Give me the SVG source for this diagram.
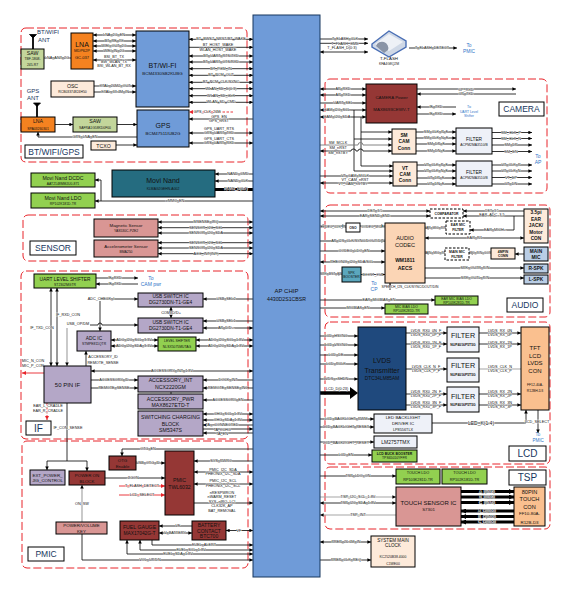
<svg xmlns="http://www.w3.org/2000/svg" width="571" height="590" viewBox="0 0 571 590">
<style>
text{font-family:"Liberation Sans",Arial,sans-serif;text-anchor:middle;dominant-baseline:central;fill:#111}
.l{font-size:3.8px;paint-order:stroke;stroke:#fff;stroke-width:.6px}
.t{font-size:7px}.m{font-size:6px}.u{font-size:5.2px}.s{font-size:4.4px}.x{font-size:3.4px}
.h{font-size:10px;fill:#17375e}
.b{font-size:6.5px;fill:#2f75c8}.bs{font-size:4px;fill:#2f75c8}
rect{stroke:#000;stroke-width:1}
.lab{fill:#fff}.gr{fill:#92d050}.pu{fill:#b4a7c7}.br{fill:#953735}.sa{fill:#d99694}.cr{fill:#fdeada}.pa{fill:#eef1f8}.or{fill:#f58220}.ol{fill:#c3d69b}.oa{fill:#fac08f}.cb{fill:#fbd5b5}.lb{fill:#b9cde5}
.d{fill:#fff;stroke-dasharray:2.5 1.5}
.red{fill:none;stroke:#e8242a;stroke-width:1;stroke-dasharray:8 3}
path{fill:none;stroke:#000;stroke-width:.8}
.e{marker-end:url(#a)}.w{marker-start:url(#a);marker-end:url(#a)}
.g{stroke:#a6a6a6;stroke-width:1.2}
.k{stroke-width:3}
.tk{marker-end:url(#t)}
.r{stroke:#e8242a;stroke-width:.9;marker-end:url(#r)}
.dr{stroke-dasharray:2.5 1.5}
</style>
<defs>
<marker id="a" viewBox="0 0 4 4" refX="4" refY="2" markerWidth="3.6" markerHeight="3.6" markerUnits="userSpaceOnUse" orient="auto-start-reverse"><path d="M0 0L4 2L0 4z" style="fill:#000;stroke:none"/></marker>
<marker id="t" viewBox="0 0 4 4" refX="4" refY="2" markerWidth="5" markerHeight="5" markerUnits="userSpaceOnUse" orient="auto"><path d="M0 0L4 2L0 4z" style="fill:#000;stroke:none"/></marker>
<marker id="r" viewBox="0 0 4 4" refX="4" refY="2" markerWidth="4" markerHeight="4" markerUnits="userSpaceOnUse" orient="auto"><path d="M0 0L4 2L0 4z" style="fill:#e8242a;stroke:none"/></marker>
</defs>
<g id="regions">
<rect class="red" x="21" y="28" width="226" height="134" rx="5"/>
<rect class="red" x="23" y="215" width="225" height="46" rx="5"/>
<rect class="red" x="21" y="271" width="227" height="168" rx="5"/>
<rect class="red" x="22" y="441" width="226" height="127" rx="5"/>
<rect class="red" x="325" y="79" width="222" height="114" rx="5"/>
<rect class="red" x="325" y="205" width="225" height="112" rx="5"/>
<rect class="red" x="325" y="322" width="225" height="142" rx="5"/>
<rect class="red" x="325" y="467" width="225" height="62" rx="5"/>
</g>
<g id="connectors">
<path class="w" d="M93 35H136"/><text class="l" x="114" y="35">LNA_2G_EN</text>
<path class="w" d="M93 41H136"/><text class="l" x="114" y="40.500">BT_RF_TX</text>
<path class="w" d="M93 46H136"/><text class="l" x="114" y="45.500">WIFI_OUT_2G</text>
<path class="w" d="M93 51H136"/><text class="l" x="114" y="50.500">WIFI_IN_2G</text>
<path class="w" d="M93 60H136"/><text class="l" x="114" y="57">BSI_BT_TX</text><text class="l" x="114" y="61.500">BW_WLAN_TX</text><text class="l" x="114" y="66">BSI_WLAN_BT_RX</text>
<path d="M44 58H71"/><text class="l" x="57" y="58">LNA_ANT_2G</text>
<path class="e" d="M94 86H136"/><text class="l" x="115" y="86">XTAL_26M2_OUT</text>
<path class="e" d="M94 92H136"/><text class="l" x="115" y="92">XTAL_37.4M_IN</text>
<path class="w" d="M189 39.300H253"/><text class="l" x="221" y="39.300">BT_BWST_NRST/BT_WAKE</text>
<path class="e" d="M189 47.300H253"/><text class="l" x="218" y="45">BT_HOST_WAKE</text><text class="l" x="218" y="50">WLAN_HOST_WAKE</text>
<path class="w" d="M189 56H253"/><text class="l" x="221" y="56">BT_UART_RTS/TXD</text>
<path class="w" d="M189 62H253"/><text class="l" x="221" y="62">BT_UART_CTS/RXD</text>
<path class="w" d="M189 68.700H253"/><text class="l" x="221" y="68.700">BT_PCM_IN</text>
<path class="w" d="M189 75.300H253"/><text class="l" x="221" y="75.300">BT_PCM_OUT</text>
<path class="w" d="M189 82.300H253"/><text class="l" x="221" y="82.300">BT_PCM_CLK/SYNC</text>
<path class="w" d="M189 88.700H253"/><text class="l" x="221" y="88.700">WLAN_SD_D(0:3)</text>
<path class="w" d="M189 95.700H253"/><text class="l" x="221" y="95.700">WLAN_SD_CLK</text>
<path class="w" d="M189 102.300H253"/><text class="l" x="221" y="102.300">WLAN_SD_CMD</text>
<path class="r dr" d="M233 112H189"/><text class="l" x="207" y="112">GPS_CLK_26M</text>
<path class="e" d="M253 119H189"/><text class="l" x="219" y="116.700">GPS_EN</text><text class="l" x="219" y="121">GPS_nRST</text>
<path class="w" d="M189 133H253"/><text class="l" x="219" y="128.700">GPS_UART_RTS</text><text class="l" x="219" y="132.700">GPS_UART_TXD</text>
<path class="w" d="M189 143H253"/><text class="l" x="219" y="139">GPS_UART_CTS</text><text class="l" x="219" y="143.300">GPS_UART_RXD</text>
<path class="e" d="M137 137H38V132"/><text class="l" x="85" y="136.700">GPS_LNA_EN</text>
<path class="e" d="M55 124.500H73"/><path class="e" d="M117 124.500H137"/><path class="e" d="M116 145H137"/>
<path class="e" d="M253 174H215"/><text class="l" x="238" y="174">NAND_CMD</text>
<path class="e" d="M253 181H215"/><text class="l" x="238" y="181">NAND_CLK</text>
<path class="k" d="M253 189.500H215"/><text class="l" x="236" y="188.500">NAND_D(0:7)</text>
<path class="e" d="M253 201H95"/><path class="e" d="M101 201V180H95"/><text class="l" x="175" y="201">eMMC_EN</text>
<path class="w" d="M158 222H253"/><text class="l" x="206" y="222">MSENSE_IRQ</text>
<path class="w" d="M158 227.700H253"/><text class="l" x="206" y="227.700">SENSOR_I2C_SCL</text>
<path class="w" d="M158 233H253"/><text class="l" x="206" y="233">SENSOR_I2C_SDA</text>
<path class="w" d="M158 242.700H253"/><text class="l" x="206" y="242.700">SENSOR_I2C_SCL</text>
<path class="w" d="M158 248H253"/><text class="l" x="206" y="248">SENSOR_I2C_SDA</text>
<path class="w" d="M158 253.700H253"/><text class="l" x="206" y="253.700">ACC_INT(INT)</text>
<path class="e" d="M96 278H138"/><text class="l" x="115" y="278">IF_RXD</text>
<path class="e" d="M138 284H96"/><text class="l" x="115" y="284">IF_TXD</text>
<path class="e" d="M100 299H138"/><text class="l" x="101" y="299">ADC_CHECK_I</text>
<path class="e" d="M253 299H203"/><text class="l" x="226" y="299">USB_SEL2</text>
<path class="e" d="M253 321H203"/><text class="l" x="226" y="321">USB_SEL1</text>
<path class="w" d="M253 328H203"/><text class="l" x="226" y="328">AP_D/D+</text>
<path class="w" d="M171 307V318"/><text class="l" x="171" y="312.500">COM_D/D+</text>
<path class="e" d="M90 325H98a2 2 0 0 1 4 0H138"/><text class="l" x="78" y="323.500">USB_OP/DM</text>
<path class="e" d="M100 301V331"/>
<path class="e g" d="M67 328V366"/>
<path class="w" d="M51 288V366"/><text class="l" x="42" y="327.500">IF_TXD_CON</text>
<path class="w" d="M57 288V366"/><text class="l" x="68" y="314.500">IF_RXD_CON</text>
<path class="w" d="M111 340H158"/><text class="l" x="134" y="340">ADC_I2C_SCL_3.3V</text>
<path class="w" d="M111 346H158"/><text class="l" x="134" y="346">ADC_I2C_SDA_3.3V</text>
<path class="w" d="M196 340H253"/><text class="l" x="226" y="340">ADC_I2C_SCL_1.8V</text>
<path class="w" d="M196 346H253"/><text class="l" x="226" y="346">ADC_I2C_SDA_1.8V</text>
<path class="e" d="M86 366V351"/><text class="l" x="103" y="356.500">ACCESSORY_ID</text><text class="l" x="103" y="362.500">REMOTE_SENSE</text>
<path class="r" d="M44 373H22"/><text class="l" x="33" y="361.300">MIC_N_CON</text><text class="l" x="33" y="366">MIC_P_CON</text>
<path class="w" d="M91 371H253"/><text class="l" x="172" y="370.500">ACCESSORY_INT_1.8V</text>
<path class="e" d="M91 380H138"/><text class="l" x="114" y="380">ACCESSORY_ID</text>
<path class="e" d="M91 388H138"/><text class="l" x="114" y="388">REMOTE_SENSE</text>
<path class="e" d="M253 380H203"/><text class="l" x="228" y="380">DOCK_INT</text>
<path class="e" d="M253 388H203"/><text class="l" x="228" y="388">REMOTE_SENSE_INC</text>
<path d="M171 392V394"/>
<path class="e" d="M253 400H203"/><text class="l" x="228" y="400">ACCESSORY_EN</text>
<path class="w" d="M253 414H203"/><text class="l" x="228" y="414">CHG_SCL_1.8V</text>
<path class="w" d="M253 420H203"/><text class="l" x="228" y="420">CHG_SDA_1.8V</text>
<path class="e" d="M253 425H203"/><text class="l" x="222" y="425">TA_nCONNECTED</text>
<path class="e" d="M203 429H253"/><text class="l" x="222" y="429.500">TA_nCHG</text>
<path class="e" d="M253 433H203"/><text class="l" x="222" y="433.500">TA_EN</text>
<path class="r dr" d="M47 403V420"/><text class="l" x="48" y="406">EAR_L_CRADLE</text><text class="l" x="48" y="410.500">EAR_R_CRADLE</text>
<path d="M67 403V461"/><text class="l" x="68" y="427.500">IF_CON_SENSE</text>
<path class="e" d="M67 461H47V470"/><path class="e" d="M67 461H87V471"/>
<path class="e" d="M253 449H122V456"/><text class="l" x="148" y="449">OTG_EN</text>
<path class="e" d="M136 463H165"/><text class="l" x="148" y="463">USB_OTG_ID</text>
<path class="e" d="M253 461H194"/><text class="l" x="221" y="461">SYS_PWRC</text>
<path class="w" d="M194 472H253"/><text class="l" x="223" y="469.500">PMIC_I2C_SDA</text><text class="l" x="223" y="474">PHEONIX_I2C_SDA</text>
<path class="w" d="M194 484H253"/><text class="l" x="223" y="481">PMIC_I2C_SCL</text><text class="l" x="223" y="485.700">PHEONIX_I2C_SCL</text>
<path d="M194 503H253" class="e"/><text class="l" x="222" y="493.300">nRESPWRON</text><text class="l" x="222" y="497.300">nWARM_RESET</text><text class="l" x="222" y="502.300">SYS_nIRQ_LCI</text><text class="l" x="222" y="506.300">CLK32K_AP</text><text class="l" x="222" y="511.300">BAT_REMOVAL</text>
<path class="e" d="M105 478H165"/><text class="l" x="133" y="478">JIGON</text>
<path class="r" d="M119 486H165"/><text class="l" x="142" y="486">T_FLASH_DETECT</text>
<path class="r" d="M119 495H165"/><text class="l" x="142" y="495">LCD_SELECT</text>
<path class="e g" d="M82 522V485"/><text class="l" x="82" y="503.500">ON_SW</text>
<path class="e" d="M82 534V560H253"/><text class="l" x="150" y="559.500">VOL_UP/DN</text>
<path class="e" d="M192 526H159"/><text class="l" x="178" y="526">VF</text>
<path class="w" d="M159 533H192"/><text class="l" x="175" y="532.700">V_BATTERY</text>
<path class="w" d="M226 530.500H253"/><text class="l" x="239" y="530.500">VF</text>
<path class="e" d="M152 540V545H253"/><text class="l" x="204" y="545">FUEL_ALERT</text>
<path class="w" d="M140 540V550H253"/><text class="l" x="191" y="549.700">FUEL_SCL_1.8V</text>
<path class="w" d="M127 540V554H253"/><text class="l" x="178" y="554">FUEL_SDA_1.8V</text>
<path class="e" d="M320 39H368"/><text class="l" x="345" y="39">T_FLASH_CLK</text>
<path class="e" d="M320 43.300H368"/><text class="l" x="345" y="43.500">T_FLASH_CMD</text>
<path class="w" d="M320 52H368"/><text class="l" x="342" y="47.500">T_FLASH_D(0:3)</text>
<path class="e" d="M409 48H457"/><text class="l" x="432" y="48">T_FLASH_DETECT</text>
<path class="w" d="M320 89H366"/><text class="l" x="343" y="89">AP_RXD</text>
<path class="w" d="M320 95H366"/><text class="l" x="343" y="95">AP_TXD</text>
<path class="e" d="M320 103H366"/><text class="l" x="343" y="103">UART_SEL</text>
<path class="w" d="M320 110H366"/><text class="l" x="337" y="110">CAM_I2C_SCL</text>
<path class="w" d="M320 117H366"/><text class="l" x="337" y="117">CAM_I2C_SDA</text>
<path class="e" d="M417 89H516"/><text class="l" x="466" y="89.500">CP_RXD</text>
<path class="e" d="M516 94H417"/><text class="l" x="466" y="94">CP_TXD</text>
<path class="e" d="M456 107H417"/><text class="l" x="436" y="107">IF_TXD</text>
<path class="e" d="M417 114H456"/><text class="l" x="436" y="114">IF_RXD</text>
<path class="e" d="M354 110V171H393"/><path class="e" d="M354 139H392"/>
<path class="e" d="M361 117V166H393"/><path class="e" d="M361 132H392"/>
<path class="e" d="M320 145H358a2 2 0 0 1 5 0H392" style="stroke:#777;stroke-width:.9"/><text class="l" x="338" y="142.500">SM_MCLK</text><text class="l" x="338" y="147.500">SM_nRST</text>
<path class="w" d="M320 151H351a2.500 2 0 0 1 5 0h2a2.500 2 0 0 1 5 0H392"/><text class="l" x="338" y="152.500">SM_nSTBY</text>
<path class="e" d="M320 176H393"/><text class="l" x="355" y="176">VT_CAM_MCLK</text><text class="l" x="355" y="179.500">VT_CAM_nRST</text>
<path class="w" d="M320 183H393"/><text class="l" x="353" y="183.500">VT_CAM_nSTBY</text>
<path class="e" d="M416 132H456"/><text class="l" x="436" y="132">SM_CLK_P_F</text>
<path class="e" d="M416 138H456"/><text class="l" x="436" y="138">SM_CLK_N_F</text>
<path class="e" d="M416 144H456"/><text class="l" x="436" y="144">SM_DP_F</text>
<path class="e" d="M416 151H456"/><text class="l" x="436" y="151">SM_DN_F</text>
<path class="e" d="M417 165H456"/><text class="l" x="436" y="165">VT_CLK_P_F</text>
<path class="e" d="M417 171H456"/><text class="l" x="436" y="171">VT_CLK_N_F</text>
<path class="e" d="M417 178H456"/><text class="l" x="436" y="178">VT_DP_F</text>
<path class="e" d="M417 184H456"/><text class="l" x="436" y="184">VT_DN_F</text>
<path class="e" d="M492 132.500H532"/><text class="l" x="511" y="132.500">SM_CLK_P</text>
<path class="e" d="M492 138.500H532"/><text class="l" x="511" y="138.500">SM_CLK_N</text>
<path class="e" d="M492 145H532"/><text class="l" x="511" y="145">SM_DP</text>
<path class="e" d="M492 151.500H532"/><text class="l" x="511" y="151.500">SM_DN</text>
<path class="e" d="M492 165H532"/><text class="l" x="511" y="165">VT_CLK_P</text>
<path class="e" d="M492 171H532"/><text class="l" x="511" y="171">VT_CLK_N</text>
<path class="e" d="M492 177.500H532"/><text class="l" x="511" y="177.500">VT_DP</text>
<path class="e" d="M492 184H532"/><text class="l" x="511" y="184">VT_DN</text>
<path class="w" d="M320 211H430"/><text class="l" x="375" y="211">DET_3.5</text>
<path class="w" d="M320 216H430"/><text class="l" x="375" y="215.700">EAR_SEND_END</text>
<path class="e" d="M524 211H463"/><text class="l x" x="492" y="210.500">DET_3.5</text>
<path class="e" d="M524 216H463"/><text class="l" x="492" y="214.700">EAR_ADC_3.5</text>
<path class="e" d="M514 216V230H470"/><text class="l" x="495" y="230">EAR_MICH+</text>
<path class="w" d="M320 226H346"/><text class="l x" x="333" y="226.500">CODEC_CLK_IN</text>
<path class="e" d="M360 226H385"/><text class="l x" x="373" y="226.500">CODEC_MCLK</text>
<path class="e" d="M320 241H385"/><text class="l" x="358" y="241.300">AP_I2S_CLK/SYNC/DOUT/DIN</text>
<path class="e" d="M320 251H385"/><text class="l" x="354" y="251">CODEC_LDO_EN</text>
<path class="w" d="M320 262H385"/><text class="l" x="352" y="262">PHEONIX_I2C_SDA/SCL</text>
<path class="e" d="M320 274H342"/><text class="l x" x="331" y="274">SPK_BST_EN</text>
<path class="e" d="M361 274.500H385"/><text class="l x" x="373" y="274.500">BOOST_OUT</text>
<path class="e" d="M446 228H425"/><text class="l x" x="435" y="228">EAR_MIC_P/N</text>
<path class="w" d="M425 238H524"/><text class="l" x="475" y="238">EAR_R/L</text>
<path class="e" d="M445 253H425"/><text class="l x" x="435" y="253">MAIN_MIC_P/N</text>
<path class="e" d="M491 253H469"/><text class="l x" x="480" y="253">MIC_P/N_CON</text>
<path class="e" d="M524 254H515"/>
<path class="e" d="M425 268H524"/><text class="l" x="475" y="268">SPK_OUTR_P/N</text>
<path class="e" d="M425 278H524"/><text class="l" x="475" y="278">SPK_OUTL_P/N</text>
<path class="e" d="M390 290V283"/><text class="l x" x="410" y="286.500">SPEECH_I2S_CLK/SYNC/DOUT/DIN</text>
<path class="e" d="M320 300H435"/><text class="l" x="379" y="300">EAR_MICBIAS_EN</text>
<path class="e" d="M320 308H385"/><text class="l" x="358" y="308">MICBIAS_EN</text>
<path class="e" d="M320 336H358"/><text class="l" x="336" y="336">LCD_HSYNC</text>
<path class="e" d="M320 345H358"/><text class="l" x="336" y="345">LCD_VSYNC</text>
<path class="e" d="M320 355H358"/><text class="l" x="336" y="355">LCD_DE</text>
<path class="e" d="M320 364H358"/><text class="l" x="336" y="364">LCD_PCLK</text>
<path class="e" d="M320 379H358"/><text class="l" x="336" y="379">LVDS_nSHDN</text>
<path d="M320 393H350" style="stroke-width:3.500"/><path d="M350 387L358 393L350 399z" style="fill:#000;stroke:none"/><text class="l" x="337" y="388.500">LCD_D(0:23)</text>
<path class="e" d="M406 333H447"/><text class="l" x="426" y="331">LVDS_RX0_0N_F</text><text class="l" x="426" y="335">LVDS_RX0_0P_F</text>
<path class="e" d="M406 344H447"/><text class="l" x="426" y="342.500">LVDS_RX0_1N_F</text><text class="l" x="426" y="347">LVDS_RX0_1P_F</text>
<path class="e" d="M406 369H447"/><text class="l" x="426" y="367">LVDS_CLK_N_F</text><text class="l" x="426" y="371">LVDS_CLK_P_F</text>
<path class="e" d="M406 394H447"/><text class="l" x="426" y="391.500">LVDS_RX0_2N_F</text><text class="l" x="426" y="396">LVDS_RX0_2P_F</text>
<path class="e" d="M406 405H447"/><text class="l" x="426" y="403">LVDS_RX0_3N_F</text><text class="l" x="426" y="407">LVDS_RX0_3P_F</text>
<path class="e" d="M479 333H521"/><text class="l" x="500" y="331">LVDS_RX_0N</text><text class="l" x="500" y="335">LVDS_RX_0P</text>
<path class="e" d="M479 344H521"/><text class="l" x="500" y="342.500">LVDS_RX_1N</text><text class="l" x="500" y="347">LVDS_RX_1P</text>
<path class="g" d="M479 369H521"/><text class="l" x="500" y="367">LVDS_CLK_N</text><text class="l" x="500" y="371">LVDS_CLK_P</text>
<path class="e" d="M479 394H521"/><text class="l" x="500" y="391.500">LVDS_RX_2N</text><text class="l" x="500" y="396">LVDS_RX_2P</text>
<path class="e" d="M479 405H521"/><text class="l" x="500" y="403">LVDS_RX_3N</text><text class="l" x="500" y="407">LVDS_RX_3P</text>
<path class="e" d="M320 419H374"/><text class="l" x="346" y="419">LCD_BACKLIGHT_PWM</text>
<path class="e" d="M320 427H374"/><text class="l" x="346" y="427">LCD_BACKLIGHT_RESET</text>
<path class="e" d="M320 442H374"/><text class="l" x="346" y="442.500">LCD_BACKLIGHT_RESET</text>
<path class="e" d="M320 455H372"/><text class="l" x="346" y="455">LCD_EN</text>
<path d="M432 423H526"/><path class="e" d="M526 423V410"/><text x="481" y="423.300" style="font-size:5px;paint-order:stroke;stroke:#fff;stroke-width:1px">LED_K(1:4)</text>
<path class="e" d="M538 410V433"/><text class="l" x="537" y="421.500">LCD_SELECT</text>
<path class="e" d="M320 476H396"/><text class="l" x="358" y="476">TSP_LDO_ON</text>
<path class="e g" d="M320 497H396"/><text class="l" x="358" y="497">TSP_I2C_SCL_1.8V</text>
<path class="w" d="M320 503H396"/><text class="l" x="358" y="503">TSP_I2C_SDA_1.8V</text>
<path class="e g" d="M396 515H320"/><text class="l" x="358" y="515">TSP_INT</text>
<path class="k tk" d="M461 491.500H514"/><text class="l" x="487" y="491.500">A_I(0:15)</text>
<path class="k tk" d="M461 497H514"/><text class="l" x="487" y="497">B_I(0:15)</text>
<path class="k tk" d="M461 502.500H514"/><text class="l" x="487" y="502.500">C_I(0:14)</text>
<path class="k tk" d="M514 511H461"/><text class="l" x="487" y="511">A_O(0:13)</text>
<path class="k tk" d="M514 516.500H461"/><text class="l" x="487" y="516.500">B_O(0:13)</text>
<path class="k tk" d="M514 522H461"/><text class="l" x="487" y="522">C_O(0:13)</text>
<path class="w" d="M320 542H371"/><text class="l" x="346" y="542">PREP_26.6M_IN</text>
<path class="e" d="M320 560H371"/><text class="l" x="346" y="560">PREP_CLK_REQ</text>
</g>
<g id="ap-chip"><rect x="253" y="15" width="67" height="562" style="fill:#6f9bd8;stroke:#17375e"/><text class="m" x="286.500" y="291">AP CHIP</text><text class="s" x="286.500" y="299" style="font-size:5.200px">4430D2S1CBSR</text></g>
<g id="bt-wifi"><rect x="136" y="31" width="53" height="76" style="fill:#6f9bd8"/><text class="t" x="162.500" y="65">BT/WI-FI</text><text class="s" x="162.500" y="73">BCM4330SB2KUBG</text></g>
<g id="gps"><rect x="137" y="110" width="52" height="37" style="fill:#6f9bd8"/><text class="t" x="163" y="125.500">GPS</text><text class="s" x="163" y="133">BCM47511IUB2G</text></g>
<g id="lna1"><rect class="or" x="71" y="33" width="22" height="36"/><text class="t" x="82" y="44">LNA</text><text class="x" x="82" y="50" style="font-size:4px">MDP62P</text><text class="x" x="82" y="57" style="font-size:4px">GC-037</text></g>
<g id="saw1"><rect class="ol" x="21" y="49" width="23" height="20"/><text class="u" x="32.500" y="53">SAW</text><text class="x" x="32.500" y="59">TBF-1808-</text><text class="x" x="32.500" y="65">245-R7</text></g>
<g id="osc"><rect class="cr" x="51" y="81" width="43" height="16"/><text class="u" x="72.500" y="86">OSC</text><text class="x" x="72.500" y="92">RCB03374824H50</text></g>
<g id="lna2"><rect class="or" x="21" y="117" width="34" height="15"/><text class="u" x="38" y="121">LNA</text><text class="x" x="38" y="128.500">SPA03260301</text></g>
<g id="saw2"><rect class="ol" x="73" y="117" width="44" height="15"/><text class="u" x="95" y="120.500">SAW</text><text class="x" x="95" y="128">SAFRA1G58KD0F00</text></g>
<g id="tcxo"><rect class="cr" x="91" y="141" width="25" height="9"/><text class="u" x="103.500" y="145.500">TCXO</text></g>
<g id="label-btwifigps"><rect class="lab" x="25" y="145" width="58" height="13"/><text x="54" y="151.500" style="font-size:8.500px;fill:#17375e">BT/WIFI/GPS</text></g>
<g id="ant-bt"><path d="M33 49V36" style="stroke-width:1.800"/><path d="M29.500 34.500H36.500L33 38z" style="fill:#000"/><text class="m" x="48" y="32" style="fill:#17375e">BT/WIFI</text><text class="m" x="44" y="39.500" style="fill:#17375e">ANT</text></g>
<g id="ant-gps"><path d="M37 117V104" style="stroke-width:1.800"/><path d="M33.500 103H40.500L37 106.500z" style="fill:#000"/><text class="m" x="33" y="91" style="fill:#17375e">GPS</text><text class="m" x="33" y="98" style="fill:#17375e">ANT</text></g>
<g id="movi-dcdc"><rect class="gr" x="31" y="173" width="64" height="14"/><text class="u" x="63" y="177.500">Movi Nand DCDC</text><text class="x" x="63" y="183.500">AAT2148MMJU0-871</text></g>
<g id="movi-ldo"><rect class="gr" x="31" y="193" width="64" height="15"/><text class="u" x="63" y="197.500">Movi Nand LDO</text><text class="x" x="63" y="204">RP102K181D-TR</text></g>
<g id="movi-nand"><rect x="112" y="170" width="103" height="27" style="fill:#256c80"/><text class="t" x="163" y="180.500">Movi Nand</text><text class="x" x="163" y="188.500">KLMAG2GEHN-A002</text></g>
<g id="magnetic"><rect class="sa" x="94" y="219" width="64" height="18"/><text class="s" x="126" y="225">Magnetic Sensor</text><text class="x" x="126" y="231">YAS530C-PZE2</text></g>
<g id="accel"><rect class="sa" x="94" y="240" width="64" height="17"/><text class="s" x="126" y="246">Accelerometer Sensor</text><text class="x" x="126" y="251.500">BMA250</text></g>
<g id="label-sensor"><rect class="lab" x="30" y="241" width="46" height="14"/><text class="h" x="53" y="248" style="font-size:8.500px">SENSOR</text></g>
<g id="uart"><rect class="gr" x="34" y="274" width="62" height="14"/><text class="s" x="65" y="279" style="font-size:4.800px">UART LEVEL SHIFTER</text><text class="x" x="65" y="284.500">ST2302MGTR</text></g>
<g id="to-cam"><text class="b" x="151" y="278" style="font-size:5px">To</text><text class="b" x="151" y="284" style="font-size:5px">CAM pwr</text></g>
<g id="usb1"><rect class="pu" x="138" y="293" width="65" height="14"/><text class="u" x="170.500" y="296.500" style="font-size:4.800px">USB SWITCH IC</text><text class="u" x="170.500" y="302.500" style="font-size:4.800px">DG2730DN-T1-GE4</text></g>
<g id="usb2"><rect class="pu" x="138" y="318" width="65" height="15"/><text class="u" x="170.500" y="322" style="font-size:4.800px">USB SWITCH IC</text><text class="u" x="170.500" y="328.500" style="font-size:4.800px">DG2730DN-T1-GE4</text></g>
<g id="adc"><rect class="pu" x="77" y="331" width="34" height="20"/><text class="s" x="94" y="338" style="font-size:4.800px">ADC IC</text><text class="x" x="94" y="344">STMPE811QTR</text></g>
<g id="level"><rect class="gr" x="158" y="337" width="38" height="14"/><text class="x" x="177" y="341">LEVEL SHIFTER</text><text class="x" x="177" y="346.500">NLSX5075MUTAG</text></g>
<g id="pin50"><rect class="pu" x="44" y="366" width="47" height="37"/><text class="m" x="67.500" y="384.500">50 PIN IF</text></g>
<g id="acc-int"><rect class="pu" x="138" y="376" width="65" height="16"/><text class="u" x="170.500" y="380">ACCESSORY_INT</text><text class="u" x="170.500" y="386.500">NCX2220GM</text></g>
<g id="acc-pwr"><rect class="pu" x="138" y="394" width="65" height="15"/><text class="u" x="170.500" y="398.500">ACCESSORY_PWR</text><text class="u" x="170.500" y="404.500">MAX8627ETD-T</text></g>
<g id="charging"><rect class="pu" x="138" y="411" width="65" height="25"/><text class="u" x="170.500" y="417">SWITCHING CHARGING</text><text class="u" x="170.500" y="423.500">BLOCK</text><text class="u" x="170.500" y="430">SM5347S</text></g>
<g id="label-if"><rect class="lab" x="26" y="421" width="25" height="14"/><text class="h" x="38.500" y="428">IF</text></g>
<g id="otg"><rect class="br" x="109" y="456" width="27" height="14"/><text class="s" x="122.500" y="460">OTG</text><text class="s" x="122.500" y="466">Enable</text></g>
<g id="pmic"><rect class="br" x="165" y="451" width="29" height="64"/><text class="u" x="179.500" y="480">PMIC</text><text class="u" x="179.500" y="486.500">TWL6032</text></g>
<g id="ext-power"><rect class="pu" x="30" y="470" width="35" height="15"/><text class="s" x="47.500" y="475">EXT_POWER_</text><text class="s" x="47.500" y="480.500">JIG_CONTROL</text></g>
<g id="power-on"><rect class="br" x="69" y="471" width="36" height="14"/><text class="s" x="87" y="475">POWER ON</text><text class="s" x="87" y="481">BLOCK</text></g>
<g id="key"><rect class="sa" x="56" y="522" width="51" height="12"/><text class="s" x="81.500" y="525.500">POWER/VOLUME</text><text class="s" x="81.500" y="531">KEY</text></g>
<g id="fuel"><rect class="br" x="120" y="521" width="39" height="19"/><text class="u" x="139.500" y="527">FUEL GAUGE</text><text class="u" x="139.500" y="533.500" style="font-size:4.800px">MAX17042G-T</text></g>
<g id="battery"><rect class="br" x="192" y="521" width="34" height="19"/><text class="s" x="209" y="524.800" style="font-size:5px">BATTERY</text><text class="s" x="209" y="530.500" style="font-size:5px">CONTACT</text><text class="s" x="209" y="536" style="font-size:5px">BTC700</text></g>
<g id="label-pmic"><rect class="lab" x="28" y="547" width="36" height="14"/><text class="h" x="46" y="554" style="font-size:8.500px">PMIC</text></g>
<g id="t-flash"><path d="M372 44L389 31L406 41V47L389 57L372 47z" style="fill:#cfd8e6;stroke:#4a6fb5;stroke-width:1.400"/><path d="M375 44L389 34L403 42L389 51z" style="fill:#eef1f6;stroke:none"/><path d="M376 46a6 6 0 0 1 12 4L384 53z" style="fill:#8a94a6;stroke:none"/><text class="s" x="389" y="58">T-FLASH</text><text class="x" x="389" y="63.500">KFA4G8Q2M</text></g>
<g id="to-pmic-1"><text class="bs" x="469" y="45" style="font-size:4.800px">To</text><text class="bs" x="469" y="51" style="font-size:4.800px">PMIC</text></g>
<g id="camera-power"><rect class="br" x="366" y="84" width="51" height="39"/><text class="s" x="391.500" y="97">CAMERA Power</text><text class="s" x="391.500" y="109">MAX8693CEWV-T</text></g>
<g id="to-uart"><text class="bs" x="469" y="106.500" style="font-size:3.600px">To</text><text class="x" x="469" y="112" style="fill:#2f75c8">UART Level</text><text class="x" x="469" y="116" style="fill:#2f75c8">Shifter</text></g>
<g id="label-camera"><rect class="lab" x="499" y="102" width="45" height="14"/><text class="h" x="521.500" y="109" style="font-size:8.500px">CAMERA</text></g>
<g id="sm-cam"><rect class="cr" x="392" y="129" width="24" height="25"/><text class="s" x="404" y="135" style="font-size:4.800px;font-weight:bold">SM</text><text class="s" x="404" y="141.500" style="font-size:4.800px;font-weight:bold">CAM</text><text class="s" x="404" y="148" style="font-size:4.800px;font-weight:bold">Conn</text></g>
<g id="vt-cam"><rect class="cr" x="393" y="162" width="24" height="24"/><text class="s" x="405" y="168" style="font-size:4.800px;font-weight:bold">VT</text><text class="s" x="405" y="174" style="font-size:4.800px;font-weight:bold">CAM</text><text class="s" x="405" y="180.500" style="font-size:4.800px;font-weight:bold">Conn</text></g>
<g id="filter-sm"><rect class="pa" x="456" y="128" width="36" height="26"/><text class="s" x="474" y="139" style="font-size:4.800px">FILTER</text><text class="x" x="474" y="144.500">ACPM2MA3510/B</text></g>
<g id="filter-vt"><rect class="pa" x="456" y="161" width="36" height="25"/><text class="s" x="474" y="172" style="font-size:4.800px">FILTER</text><text class="x" x="474" y="177.500">ACPM2MA3510/B</text></g>
<g id="to-ap"><text class="b" x="538" y="156" style="font-size:5px">To</text><text class="b" x="538" y="162" style="font-size:5px">AP</text></g>
<g id="comparator"><rect class="d" x="430" y="209" width="33" height="9"/><text class="x" x="446.500" y="213.500" style="font-weight:bold">COMPARATOR</text></g>
<g id="ear-jack"><rect class="cr" x="524" y="209" width="24" height="34"/><text class="s" x="536" y="212.500" style="font-size:4.800px;font-weight:bold">3.5pi</text><text class="s" x="536" y="219" style="font-size:4.800px;font-weight:bold">EAR</text><text class="s" x="536" y="225.500" style="font-size:4.800px;font-weight:bold">JACK/</text><text class="s" x="536" y="232" style="font-size:4.800px;font-weight:bold">Motor</text><text class="s" x="536" y="238.500" style="font-size:4.800px;font-weight:bold">CON</text></g>
<g id="oso"><rect class="lab" x="346" y="223" width="14" height="9"/><text class="x" x="353" y="227.500" style="font-weight:bold">OSO</text></g>
<g id="codec"><rect class="cb" x="385" y="223" width="40" height="60"/><text class="u" x="405" y="238" style="font-size:5.600px">AUDIO</text><text class="u" x="405" y="245" style="font-size:5.600px">CODEC</text><text class="s" x="405" y="260" style="font-size:5px;font-weight:bold">WM1811</text><text class="u" x="405" y="267.500" style="font-weight:bold">AECS</text></g>
<g id="ear-filter"><rect class="d" x="446" y="221" width="24" height="13"/><text class="x" x="458" y="225" style="font-weight:bold">EAR MIC</text><text class="x" x="458" y="229.800" style="font-weight:bold">FILTER</text></g>
<g id="main-filter"><rect class="d" x="445" y="248" width="24" height="12"/><text class="x" x="457" y="252" style="font-weight:bold">MAIN MIC</text><text class="x" x="457" y="256.500" style="font-weight:bold">FILTER</text></g>
<g id="mic-conn"><rect class="cr" x="491" y="248" width="24" height="11"/><text class="x" x="503" y="251.500" style="font-weight:bold">4MPIN</text><text class="x" x="503" y="256" style="font-weight:bold">CONN</text></g>
<g id="main-mic"><rect class="lb" x="524" y="247" width="24" height="14"/><text class="s" x="536" y="251" style="font-size:4.800px;font-weight:bold">MAIN</text><text class="s" x="536" y="257" style="font-size:4.800px;font-weight:bold">MIC</text></g>
<g id="r-spk"><rect class="lb" x="524" y="264" width="24" height="9"/><text class="s" x="536" y="268.500" style="font-size:4.800px;font-weight:bold">R-SPK</text></g>
<g id="l-spk"><rect class="lb" x="524" y="275" width="24" height="9"/><text class="s" x="536" y="279.500" style="font-size:4.800px;font-weight:bold">L-SPK</text></g>
<g id="spk-boost"><rect x="342" y="267" width="19" height="15" style="fill:#5ba7bd"/><text class="x" x="351.500" y="272.500">SPK</text><text class="x" x="351.500" y="276.500">BOOSTER</text></g>
<g id="to-cp"><text class="b" x="374" y="283" style="font-size:5px">To</text><text class="b" x="374" y="289" style="font-size:5px">CP</text></g>
<g id="ear-ldo"><rect class="gr" x="435" y="296" width="43" height="9"/><text class="x" x="456.500" y="298.500">EAR MIC BIAS LDO</text><text class="x" x="456.500" y="302.500">RP103K281D-TR</text></g>
<g id="mic-ldo"><rect class="gr" x="385" y="304" width="43" height="10"/><text class="x" x="406.500" y="307">MIC BIAS LDO</text><text class="x" x="406.500" y="311">RP103K281D-TR</text></g>
<g id="label-audio"><rect class="lab" x="507" y="298" width="36" height="14"/><text class="h" x="525" y="305" style="font-size:8.500px">AUDIO</text></g>
<g id="lvds"><rect x="358" y="327" width="48" height="83" style="fill:#1f497d"/><text class="t" x="382" y="360">LVDS</text><text class="t" x="382" y="370">Transmitter</text><text class="s" x="382" y="378" style="font-size:4.800px">DTC34LM85AM</text></g>
<g id="filter1"><rect class="pa" x="447" y="327" width="32" height="25"/><text x="463" y="335" style="font-size:7.200px">FILTER</text><text class="x" x="463" y="344.500" style="font-weight:bold">NUP4016P5T5G</text></g>
<g id="filter2"><rect class="pa" x="447" y="358" width="32" height="24"/><text x="463" y="365" style="font-size:7.200px">FILTER</text><text class="x" x="463" y="374.500" style="font-weight:bold">NUP4016P5T5G</text></g>
<g id="filter3"><rect class="pa" x="447" y="387" width="32" height="25"/><text x="463" y="396" style="font-size:7.200px">FILTER</text><text class="x" x="463" y="405" style="font-weight:bold">NUP4016P5T5G</text></g>
<g id="tft"><rect class="oa" x="521" y="327" width="28" height="83"/><text class="m" x="535" y="348">TFT</text><text class="m" x="535" y="355.500">LCD</text><text class="m" x="535" y="363">LVDS</text><text class="m" x="535" y="371">CON</text><text class="x" x="535" y="385">FF12-40A-</text><text class="x" x="535" y="390.500">R12BH-D3</text></g>
<g id="led-driver"><rect class="pa" x="374" y="414" width="58" height="19"/><text class="s" x="403" y="417">LED BACKLIGHT</text><text class="s" x="403" y="423">DRIVER IC</text><text class="x" x="403" y="429.500" style="font-size:3.800px">LP8556TLX</text></g>
<g id="lm2757"><rect class="pa" x="374" y="436" width="43" height="12"/><text class="s" x="395.500" y="442" style="font-size:5px">LM2757TMX</text></g>
<g id="buck"><rect class="gr" x="372" y="450" width="45" height="12"/><text class="x" x="394.500" y="453.500" style="font-weight:bold">LCD BUCK BOOSTER</text><text class="x" x="394.500" y="458">TPS65010YFFR</text></g>
<g id="to-pmic-2"><text class="b" x="538" y="434" style="font-size:4.500px">To</text><text class="b" x="538" y="440" style="font-size:4.500px">PMIC</text></g>
<g id="label-lcd"><rect class="lab" x="509" y="446" width="37" height="15"/><text class="h" x="527.500" y="453.500">LCD</text></g>
<g id="touch-ldo1"><rect class="gr" x="396" y="469" width="44" height="15"/><text class="x" x="418" y="473" style="font-size:3.800px">TOUCH LDO</text><text class="x" x="418" y="479.500" style="font-size:3.800px">RP103K281D-TR</text></g>
<g id="touch-ldo2"><rect class="gr" x="442" y="469" width="45" height="15"/><text class="x" x="464.500" y="473" style="font-size:3.800px">TOUCH LDO</text><text class="x" x="464.500" y="479.500" style="font-size:3.800px">RP102K181D-TR</text></g>
<g id="label-tsp"><rect class="lab" x="509" y="470" width="37" height="15"/><text class="h" x="527.500" y="477">TSP</text></g>
<g id="touch-ic"><rect class="sa" x="396" y="487" width="65" height="39"/><text class="u" x="428.500" y="502.500" style="font-size:6px">TOUCH SENSOR IC</text><text class="s" x="428.500" y="509.500">S7301</text></g>
<g id="pin80"><rect class="oa" x="514" y="487" width="31" height="39"/><text class="u" x="529.500" y="491.500" style="font-size:5.600px">80PIN</text><text class="u" x="529.500" y="498.500" style="font-size:5.600px">TOUCH</text><text class="u" x="529.500" y="506.500" style="font-size:5.600px">CON</text><text class="s" x="529.500" y="513">FF10-80A-</text><text class="s" x="529.500" y="522">R12B-D3</text></g>
<g id="clock"><rect class="cr" x="371" y="536" width="44" height="31"/><text class="s" x="393" y="540" style="font-size:4.600px">SYSTEM MAIN</text><text class="s" x="393" y="545.500" style="font-size:4.600px">CLOCK</text><text class="x" x="393" y="557">KC2520B38.4000</text><text class="x" x="393" y="563.500">C1WE00</text></g>
</svg>
